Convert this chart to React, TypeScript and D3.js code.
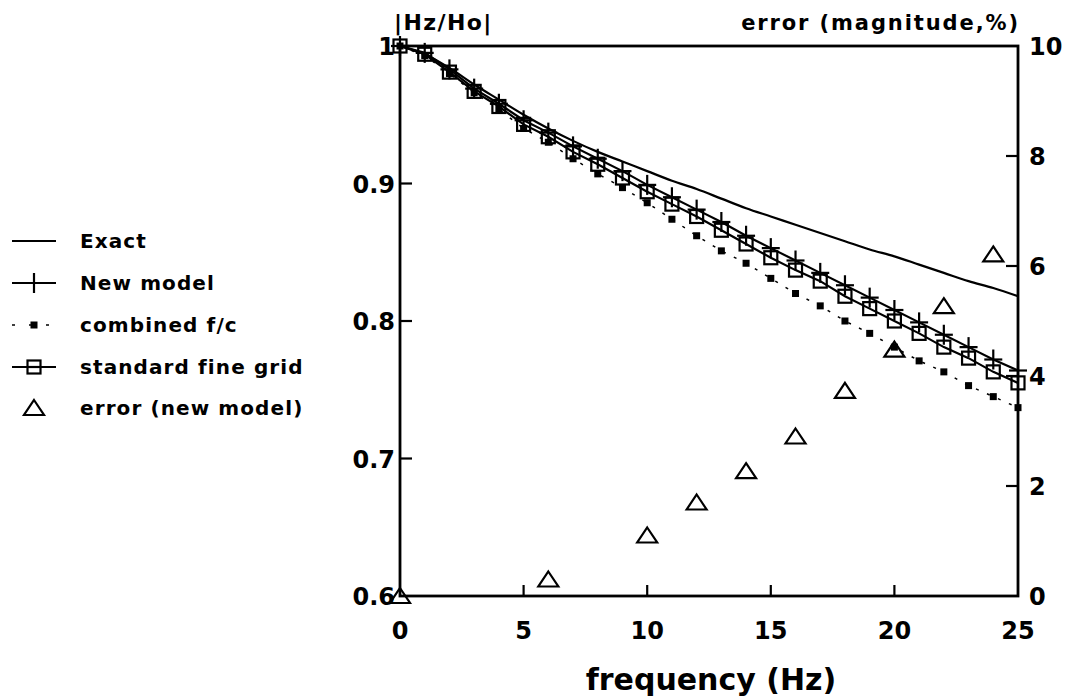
import React from "react";
import * as d3 from "d3";

const freq = d3.range(0, 26);
const exact = [1.0, 0.994, 0.984, 0.972, 0.961, 0.95, 0.94, 0.931, 0.923, 0.916, 0.909, 0.902, 0.896, 0.889, 0.882, 0.876, 0.87, 0.864, 0.858, 0.852, 0.847, 0.841, 0.835, 0.829, 0.824, 0.818];
const newModel = [1.0, 0.995, 0.983, 0.969, 0.958, 0.946, 0.937, 0.927, 0.918, 0.909, 0.899, 0.89, 0.881, 0.872, 0.862, 0.853, 0.844, 0.835, 0.826, 0.817, 0.808, 0.799, 0.79, 0.781, 0.772, 0.764];
const combined = [1.0, 0.993, 0.98, 0.966, 0.954, 0.94, 0.93, 0.918, 0.907, 0.897, 0.886, 0.874, 0.862, 0.851, 0.842, 0.831, 0.82, 0.811, 0.8, 0.791, 0.781, 0.771, 0.763, 0.753, 0.745, 0.737];
const standard = [1.0, 0.994, 0.981, 0.967, 0.956, 0.943, 0.934, 0.923, 0.914, 0.904, 0.894, 0.885, 0.876, 0.866, 0.856, 0.846, 0.837, 0.829, 0.818, 0.809, 0.8, 0.791, 0.781, 0.773, 0.763, 0.755];
const errorFreq = [0, 6, 10, 12, 14, 16, 18, 20, 22, 24];
const errorVal = [0, 0.3, 1.1, 1.7, 2.27, 2.9, 3.73, 4.48, 5.27, 6.21];

const xTicks = [0, 5, 10, 15, 20, 25];
const yLeftTicks = [1, 0.9, 0.8, 0.7, 0.6];
const yLeftLabels = ["1", "0.9", "0.8", "0.7", "0.6"];
const yRightTicks = [10, 8, 6, 4, 2, 0];

const legendItems = ["Exact", "New model", "combined f/c", "standard fine grid", "error (new model)"];

const FONT = "'DejaVu Sans', Arial, sans-serif";

export default function App() {
  const left = 400, right = 1018, top = 46, bottom = 596;
  const x = d3.scaleLinear().domain([0, 25]).range([left, right]);
  const yL = d3.scaleLinear().domain([0.6, 1]).range([bottom, top]);
  const yR = d3.scaleLinear().domain([0, 10]).range([bottom, top]);

  const lineOf = (vals: number[], curve = d3.curveLinear) =>
    d3.line<number>().x((_, i) => x(freq[i])).y((v) => yL(v)).curve(curve)(vals) || "";

  const sw = 2.2;
  const plus = (cx: number, cy: number, k: string) => (
    <g key={k}>
      <line x1={cx - 9} x2={cx + 9} y1={cy} y2={cy} stroke="#000" strokeWidth={sw} />
      <line x1={cx} x2={cx} y1={cy - 10} y2={cy + 10} stroke="#000" strokeWidth={sw} />
    </g>
  );
  const square = (cx: number, cy: number, k: string) => (
    <rect key={k} x={cx - 6.5} y={cy - 6.5} width={13} height={13} fill="none" stroke="#000" strokeWidth={sw} />
  );
  const fsquare = (cx: number, cy: number, k: string) => (
    <rect key={k} x={cx - 3.5} y={cy - 3.5} width={7} height={7} fill="#000" />
  );
  const tri = (cx: number, cy: number, k: string) => (
    <path key={k} d={`M${cx},${cy - 8} L${cx + 10},${cy + 7} L${cx - 10},${cy + 7} Z`} fill="none" stroke="#000" strokeWidth={sw} />
  );

  const legY = [241, 283, 325, 367, 408];
  const lx0 = 12, lx1 = 56, lxm = 34, ltx = 80;

  return (
    <svg width={1074} height={700} style={{ display: "block", position: "absolute", left: 0, top: 0, background: "#fff" }}>
      <rect x={0} y={0} width={1074} height={700} fill="#fff" />
      {/* frame */}
      <rect x={left} y={top} width={right - left} height={bottom - top} fill="none" stroke="#000" strokeWidth={2.8} />
      {/* ticks */}
      {xTicks.slice(1, -1).map((t) => (
        <line key={"xt" + t} x1={x(t)} x2={x(t)} y1={bottom} y2={bottom - 11} stroke="#000" strokeWidth={2.2} />
      ))}
      {yLeftTicks.slice(1, -1).map((t) => (
        <line key={"ylt" + t} x1={left} x2={left + 12} y1={yL(t)} y2={yL(t)} stroke="#000" strokeWidth={2.2} />
      ))}
      {yRightTicks.slice(1, -1).map((t) => (
        <line key={"yrt" + t} x1={right} x2={right - 12} y1={yR(t)} y2={yR(t)} stroke="#000" strokeWidth={2.2} />
      ))}
      {/* tick labels */}
      <g fontFamily={FONT} fontWeight="bold" fontSize={24} fill="#000">
        {xTicks.map((t) => (
          <text key={"xl" + t} x={x(t)} y={639} textAnchor="middle">{t}</text>
        ))}
        {yLeftTicks.map((t, i) => (
          <text key={"yll" + t} x={left - 5} y={yL(t) + 9} textAnchor="end">{yLeftLabels[i]}</text>
        ))}
        {yRightTicks.map((t) => (
          <text key={"yrl" + t} x={right + 11} y={yR(t) + 9} textAnchor="start">{t}</text>
        ))}
      </g>
      {/* axis titles */}
      <text x={394} y={30} textAnchor="start" fontFamily={FONT} fontWeight="bold" fontSize={22} letterSpacing={1.4}>|Hz/Ho|</text>
      <text x={1020} y={30} textAnchor="end" fontFamily={FONT} fontWeight="bold" fontSize={21} letterSpacing={1.9}>error (magnitude,%)</text>
      <text x={711} y={690} textAnchor="middle" fontFamily={FONT} fontWeight="bold" fontSize={30}>frequency (Hz)</text>

      {/* series */}
      <path d={lineOf(exact, d3.curveMonotoneX)} fill="none" stroke="#000" strokeWidth={sw} />
      <path d={lineOf(combined)} fill="none" stroke="#000" strokeWidth={1.5} strokeDasharray="3,9" />
      <path d={lineOf(standard)} fill="none" stroke="#000" strokeWidth={sw} />
      <path d={lineOf(newModel)} fill="none" stroke="#000" strokeWidth={sw} />
      {combined.map((v, i) => fsquare(x(freq[i]), yL(v), "c" + i))}
      {standard.map((v, i) => square(x(freq[i]), yL(v), "s" + i))}
      {newModel.map((v, i) => plus(x(freq[i]), yL(v), "n" + i))}
      {errorVal.map((v, i) => tri(x(errorFreq[i]), yR(v), "e" + i))}

      {/* legend */}
      <g>
        <line x1={lx0} x2={lx1} y1={legY[0]} y2={legY[0]} stroke="#000" strokeWidth={sw} />
        <line x1={lx0} x2={lx1} y1={legY[1]} y2={legY[1]} stroke="#000" strokeWidth={sw} />
        <line x1={lxm} x2={lxm} y1={legY[1] - 10} y2={legY[1] + 10} stroke="#000" strokeWidth={sw} />
        <line x1={lx0} x2={lx1} y1={legY[2]} y2={legY[2]} stroke="#000" strokeWidth={1.5} strokeDasharray="3,14" />
        {fsquare(lxm, legY[2], "lc")}
        <line x1={lx0} x2={lx1} y1={legY[3]} y2={legY[3]} stroke="#000" strokeWidth={sw} />
        <rect x={lxm - 6.5} y={legY[3] - 6.5} width={13} height={13} fill="#fff" stroke="#000" strokeWidth={sw} />
        <line x1={lxm - 6.5} x2={lxm + 6.5} y1={legY[3]} y2={legY[3]} stroke="#000" strokeWidth={sw} />
        {tri(lxm, legY[4], "lt")}
        <g fontFamily={FONT} fontWeight="bold" fontSize={20} letterSpacing={1.1} fill="#000">
          {legendItems.map((t, i) => (
            <text key={t} x={ltx} y={legY[i] + 7}>{t}</text>
          ))}
        </g>
      </g>
    </svg>
  );
}
